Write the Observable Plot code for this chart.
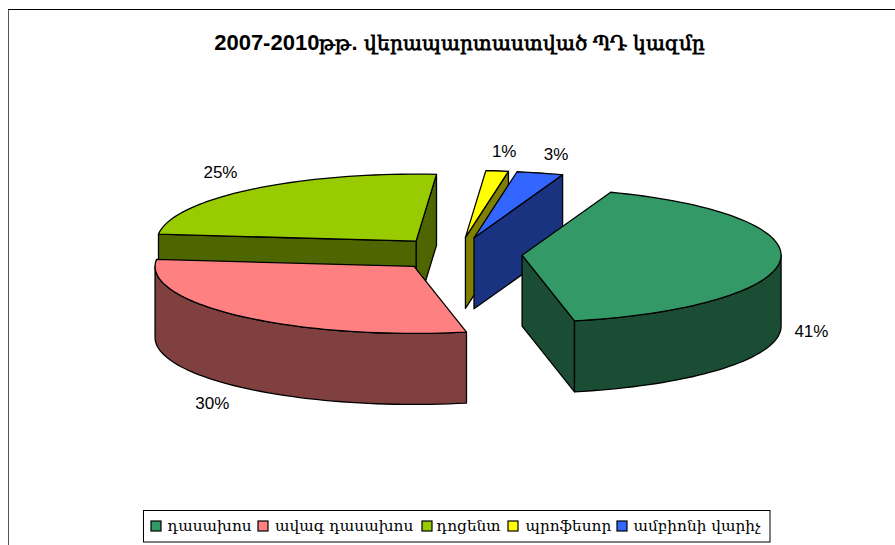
<!DOCTYPE html>
<html><head><meta charset="utf-8">
<script src="https://cdn.jsdelivr.net/npm/d3@7"></script>
<script src="https://cdn.jsdelivr.net/npm/@observablehq/plot@0.6"></script>
<style>
html,body{margin:0;padding:0;background:#fff}svg{display:block}
@font-face{font-family:"ArmTitle";src:local("DejaVu Serif");unicode-range:U+0530-058F;size-adjust:93%}
</style>
</head><body><div id="chart"></div>
<script>
const title = "2007-2010թթ. վերապարտաստված ՊԴ կազմը";
const categories = ["դասախոս", "ավագ դասախոս", "դոցենտ", "պրոֆեսոր", "ամբիոնի վարիչ"];
const shares = [41.2, 29.9, 24.6, 1.4, 2.9];
const topColors = ["#339966", "#FF8080", "#99CC00", "#FFFF00", "#3366FF"];
const wallColors = ["#1A4D33", "#804040", "#4D6600", "#808000", "#1A3380"];

// layout of the tilted pie
const W = 895, H = 545;
const C = [457, 253.5], rx = 259, ry = 67, depth = 71, explode = 0.25, startAngle = -70;
const rad = d => d * Math.PI / 180;
const total = d3.sum(shares);
let acc = startAngle;
const slices = shares.map((v, i) => {
  const a0 = acc, a1 = acc + v / total * 360; acc = a1;
  const m = rad((a0 + a1) / 2);
  const tip = [C[0] + explode * rx * Math.cos(m), C[1] + explode * ry * Math.sin(m)];
  return {i, a0, a1, m, tip};
});
const rim = (s, a, dz = 0) => [s.tip[0] + rx * Math.cos(rad(a)), s.tip[1] + ry * Math.sin(rad(a)) + dz];
const arc = (s, a0, a1, dz = 0) => {
  const n = Math.max(2, Math.ceil(Math.abs(a1 - a0) / 2));
  return d3.range(n + 1).map(k => rim(s, a0 + (a1 - a0) * k / n, dz));
};
const down = (p) => [p[0], p[1] + depth];
const poly = (pts, fill) => Plot.line([...pts, pts[0]], {x: d => d[0], y: d => d[1], fill, stroke: "#000", strokeWidth: 1.3, strokeLinejoin: "round", curve: "linear"});

const top_ = s => poly([s.tip, ...arc(s, s.a0, s.a1)], topColors[s.i]);
const startWall = s => { const e = rim(s, s.a0); return poly([s.tip, e, down(e), down(s.tip)], wallColors[s.i]); };
const endWall = s => { const e = rim(s, s.a1); return poly([s.tip, e, down(e), down(s.tip)], wallColors[s.i]); };
const outerWall = (s, a0, a1) => poly([...arc(s, a0, a1), ...arc(s, a1, a0, depth)], wallColors[s.i]);

const [g, p, o, y, b] = slices;
const pieMarks = [
  endWall(o), startWall(o), top_(o),
  endWall(y), top_(y),
  endWall(b), top_(b),
  endWall(g), outerWall(g, 0, g.a1), top_(g),
  outerWall(p, p.a0, 180), top_(p)
];

// percent labels: offset from the rim midpoint
const labelOffset = [[31, 71], [-28, 87], [-30, -17], [7, -19], [16, -18]];
const labels = slices.map(s => {
  const r = rim(s, (s.a0 + s.a1) / 2);
  return {x: r[0] + labelOffset[s.i][0], y: r[1] + labelOffset[s.i][1], t: Math.round(shares[s.i]) + "%"};
});

// legend
const legendBox = {x1: 143.5, x2: 770, y1: 510.5, y2: 542};
const swatchX = [151, 258, 422, 508, 617];
const legendTextX = [167, 274.5, 436, 525, 633];
const legend = categories.map((c, i) => ({c, i, x: swatchX[i], tx: legendTextX[i]}));

const chart = Plot.plot({
  width: W, height: H, margin: 0,
  x: {domain: [0, W], range: [0, W], axis: null},
  y: {domain: [0, H], range: [0, H], axis: null},
  marks: [
    Plot.ruleX([8], {y1: 9, y2: H, stroke: "#555", strokeWidth: 1}),
    Plot.ruleY([9], {x1: 8, x2: W, stroke: "#000", strokeWidth: 1.2}),
    Plot.text([title], {x: 459, y: 42, text: d => d, fontFamily: '"ArmTitle","Liberation Sans",serif', fontWeight: "bold", fontSize: 22, fill: "#000"}),
    ...pieMarks,
    Plot.text(labels, {x: "x", y: "y", text: "t", fontFamily: "Liberation Sans", fontSize: 17, fill: "#000"}),
    Plot.rect([legendBox], {x1: "x1", x2: "x2", y1: "y1", y2: "y2", fill: "#fff", stroke: "#000", strokeWidth: 1}),
    Plot.rect(legend, {x1: "x", x2: d => d.x + 10, y1: 521, y2: 531, fill: d => topColors[d.i], stroke: "#000", strokeWidth: 1.2}),
    Plot.text(legend, {x: "tx", y: 526, text: "c", textAnchor: "start", fontFamily: '"DejaVu Serif",serif', fontSize: 15.3, fill: "#000"})
  ]
});
document.getElementById("chart").append(chart);
</script></body></html>
